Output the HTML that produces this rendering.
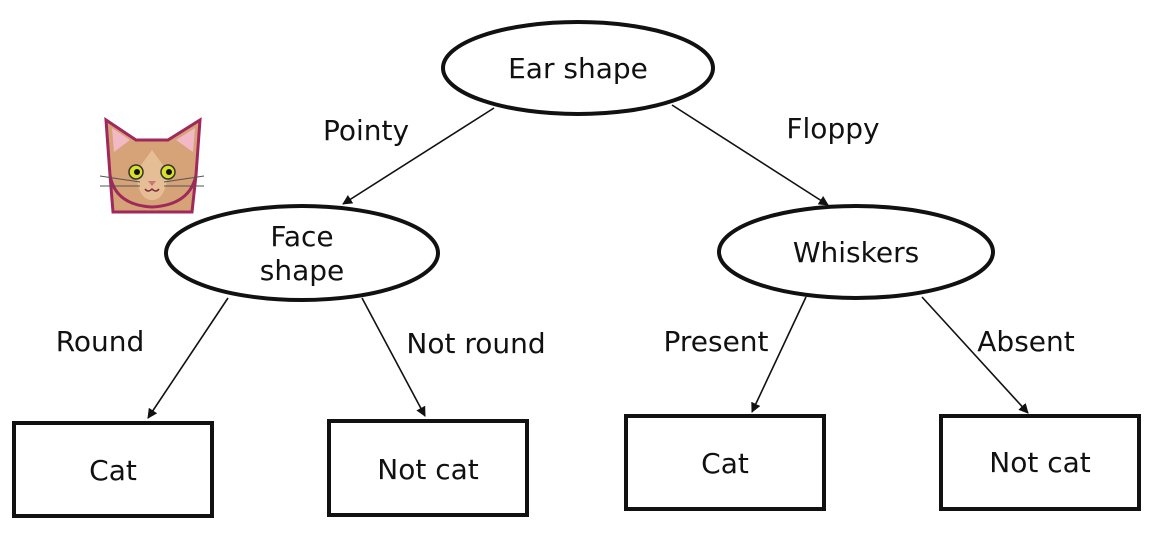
<!DOCTYPE html>
<html><head><meta charset="utf-8"><style>
html,body{margin:0;padding:0;background:#fff;}
svg text{font-family:"DejaVu Sans","Liberation Sans",sans-serif;fill:#111;}
</style></head><body>
<svg width="1163" height="553" viewBox="0 0 1163 553" xmlns="http://www.w3.org/2000/svg">
<defs><marker id="a" markerWidth="10" markerHeight="10" refX="9" refY="5" orient="auto" markerUnits="userSpaceOnUse"><path d="M0,0 L10,5 L0,10 z" fill="#111"/></marker></defs>
<g fill="none" stroke="#111" stroke-width="4">
<ellipse cx="578" cy="68" rx="135" ry="46"/>
<ellipse cx="302" cy="253" rx="136" ry="47"/>
<ellipse cx="856" cy="252" rx="137" ry="46"/>
<rect x="14" y="423" width="198" height="93"/>
<rect x="329" y="421" width="198" height="94"/>
<rect x="626" y="416" width="198" height="93"/>
<rect x="941" y="416" width="198" height="93"/>
</g>
<g stroke="#111" stroke-width="1.6" marker-end="url(#a)">
<line x1="494" y1="108" x2="343" y2="204"/>
<line x1="672" y1="105" x2="828" y2="205"/>
<line x1="228" y1="298" x2="148" y2="418"/>
<line x1="362" y1="298" x2="425" y2="416"/>
<line x1="806" y1="297" x2="752" y2="412"/>
<line x1="922" y1="297" x2="1028" y2="413"/>
</g>
<g font-size="28" text-anchor="middle">
<text x="578" y="78">Ear shape</text>
<text x="302" y="246">Face</text>
<text x="302" y="280">shape</text>
<text x="856" y="262">Whiskers</text>
<text x="113" y="480">Cat</text>
<text x="428" y="479">Not cat</text>
<text x="725" y="473">Cat</text>
<text x="1040" y="472">Not cat</text>
<text x="366" y="140">Pointy</text>
<text x="833" y="138">Floppy</text>
<text x="100" y="351">Round</text>
<text x="476" y="353">Not round</text>
<text x="716" y="351">Present</text>
<text x="1026" y="351">Absent</text>
</g>
<g>
<path d="M113,212 L110,175 L106,120 L136,140 L168,140 L200,120 L196,175 L192,212 Z" fill="#d6a277" stroke="#a0285a" stroke-width="3"/>
<path d="M110,175 Q115,205 152,207 Q190,205 196,175" fill="#d6a277" stroke="#a0285a" stroke-width="3"/>
<path d="M112,128 L130,140 L114,152 Z" fill="#f2b8c6"/>
<path d="M195,128 L176,140 L193,152 Z" fill="#f2b8c6"/>
<path d="M136,172 L152,150 L168,172 Q166,200 152,200 Q138,200 136,172 Z" fill="#e6be95"/>
<circle cx="136" cy="172" r="7" fill="#d8e02a" stroke="#333" stroke-width="1.5"/>
<circle cx="168" cy="172" r="7" fill="#d8e02a" stroke="#333" stroke-width="1.5"/>
<circle cx="137" cy="172" r="3" fill="#111"/>
<circle cx="169" cy="172" r="3" fill="#111"/>
<path d="M148,181 L156,181 L152,186 Z" fill="#c77"/>
<path d="M145,189 Q148,193 152,189 Q156,193 159,189" fill="none" stroke="#7a2a3a" stroke-width="1.5"/>
<g stroke="#555" stroke-width="1"><line x1="100" y1="176" x2="140" y2="182"/><line x1="100" y1="186" x2="140" y2="186"/><line x1="204" y1="176" x2="164" y2="182"/><line x1="204" y1="186" x2="164" y2="186"/></g>
</g>
</svg>
</body></html>
